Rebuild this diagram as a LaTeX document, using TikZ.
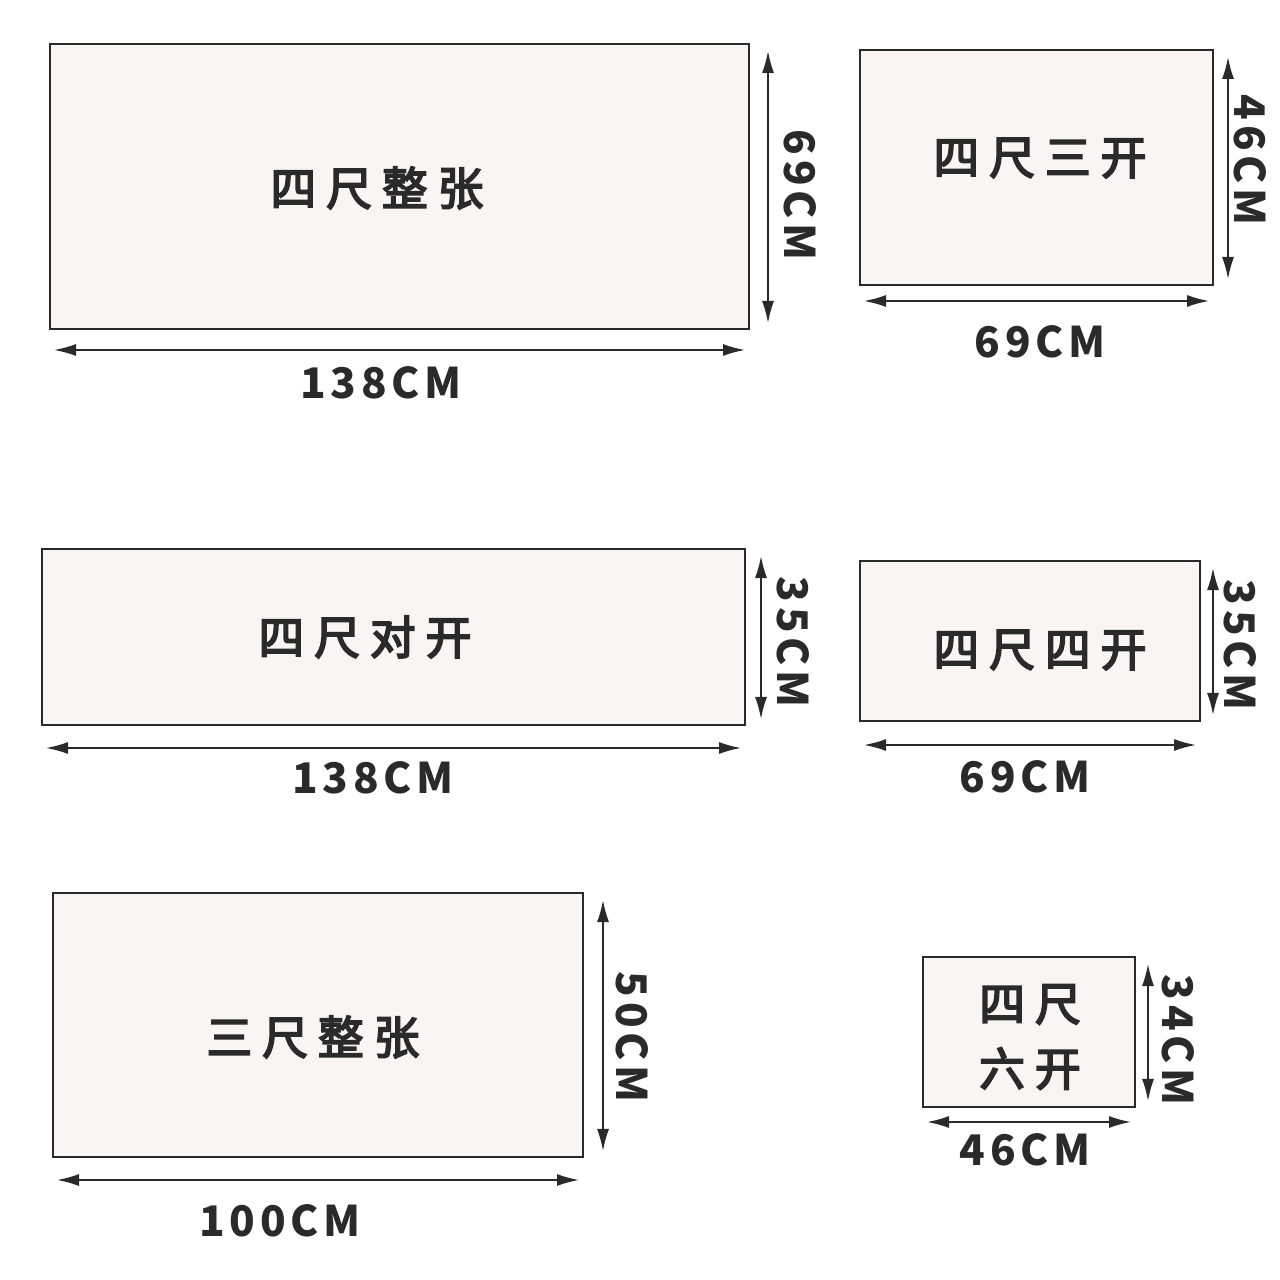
\documentclass[tikz,border=0pt]{standalone}
\usepackage{fontspec}
\setmainfont{Noto Sans CJK SC}
\usetikzlibrary{arrows.meta}
\definecolor{ink}{HTML}{2A2A2A}
\definecolor{paper}{HTML}{F9F5F5}
\tikzset{
  sheet/.style={draw=ink, line width=0.7pt, fill=paper},
  dim/.style={ink, line width=0.5pt, {Latex[length=2.2mm,width=1.2mm]}-{Latex[length=2.2mm,width=1.2mm]}},
  title/.style={font=\fontsize{13}{18.5}\selectfont\addfontfeature{LetterSpace=22,FakeBold=4}, text=ink, align=center},
  size/.style={font=\fontsize{12}{14}\selectfont\bfseries\addfontfeature{LetterSpace=11}, text=ink}
}

\begin{document}
\begin{tikzpicture}[x=0.01cm, y=-0.01cm]
        \fill[white] (0,0) rectangle (1280,1280);
        \useasboundingbox (0,0) rectangle (1280,1280);
        % sheet corners / dimension arrow positions / texts
        \foreach \xa/\ya/\xb/\yb/\ax/\ay/\txt/\tx/\ty/\wlab/\wx/\wy/\hlab/\hx/\hy [count=\i] in {
            50/44/749/329/768/350/{四尺整张}/377/188/138CM/381/383/69CM/800/195,
            860/50/1213/285/1228/301/{四尺三开}/1040/158/69CM/1040/342/46CM/1250/160,
            42/549/745/725/761/748/{四尺对开}/365/637/138CM/373/778/35CM/793/642,
            860/561/1200/721/1213/745/{四尺四开}/1040/650/69CM/1025/777/35CM/1240/645,
            53/893/583/1157/603/1180/{三尺整张}/313/1037/100CM/280/1221/50CM/632/1037,
            923/957/1135/1107/1148/1122/{四尺\\六开}/1030/1037/46CM/1025/1150/34CM/1178/1040} {
                \coordinate (a\i) at (\xa,\ya);
                \coordinate (b\i) at (\xb,\yb);
                \draw[sheet] (a\i) rectangle (b\i);
                \node[title] (t\i) at (\tx,\ty) {\txt};
                \coordinate (vt\i) at (\ax,\ya+7);
                \coordinate (vb\i) at (\ax,\yb-6);
                \coordinate (hl\i) at (\xa+4,\ay);
                \coordinate (hr\i) at (\xb-4,\ay);
                \draw[dim] (vt\i) -- (vb\i);
                \draw[dim] (hl\i) -- (hr\i);
                \node[size] (w\i) at (\wx,\wy) {\wlab};
                \node[size, rotate=-90] (h\i) at (\hx,\hy) {\hlab};
        }
    \end{tikzpicture}
\end{document}
